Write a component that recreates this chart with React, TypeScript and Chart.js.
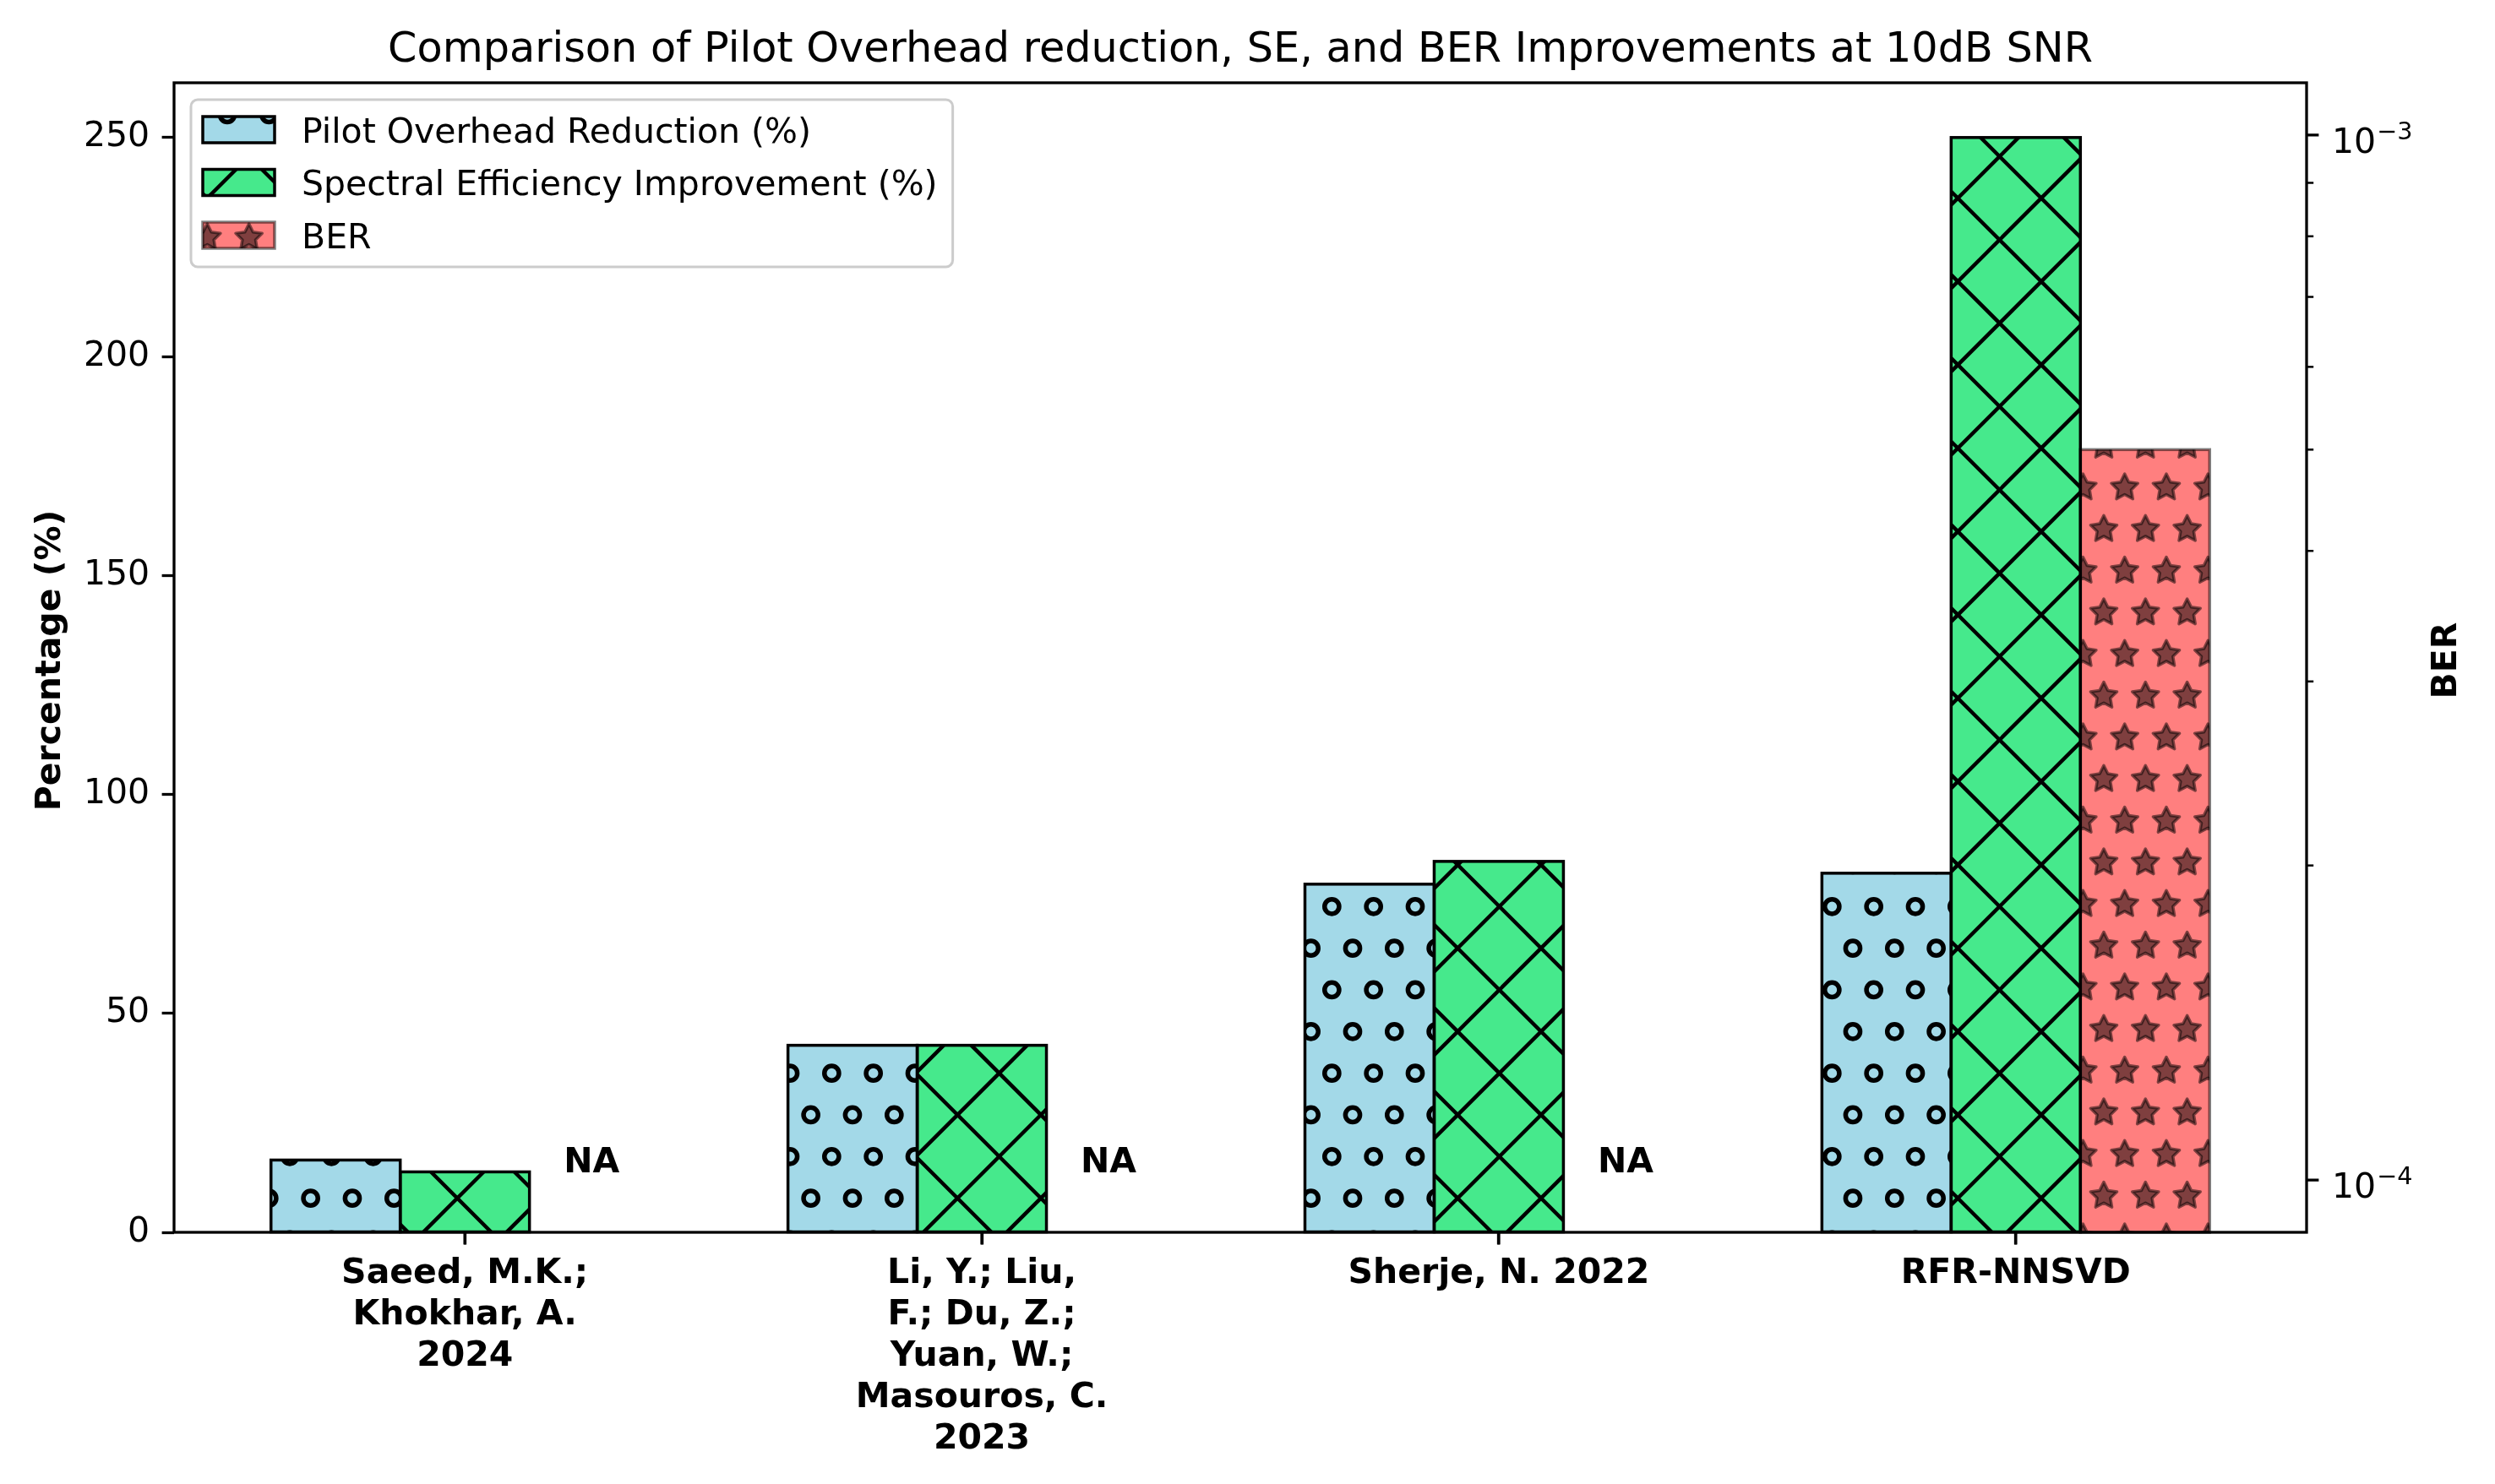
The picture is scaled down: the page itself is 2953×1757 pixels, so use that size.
import React, { useEffect, useRef } from "react";
import { Chart, registerables } from "chart.js";

Chart.register(...registerables);

// ---------------- data ----------------
const categoryLabels: string[][] = [
  ["Saeed, M.K.;", "Khokhar, A.", "2024"],
  ["Li, Y.; Liu,", "F.; Du, Z.;", "Yuan, W.;", "Masouros, C.", "2023"],
  ["Sherje, N. 2022"],
  ["RFR-NNSVD"],
];
const categoryPositions = [0, 1, 2, 3];
const pilotOverheadReduction = [16.5, 42.7, 79.5, 82];
const spectralEfficiencyImprovement = [13.8, 42.7, 84.7, 250];
const berValues: (number | null)[] = [null, null, null, 5e-4];
const naLabels: (string | null)[] = ["NA", "NA", "NA", null];
const naBaseBer = 1e-4;
const percentTicks = [0, 50, 100, 150, 200, 250];
const berMajorTicks = [1e-4, 1e-3];
const berMajorLabels = [
  ["10", "\u22124"],
  ["10", "\u22123"],
];
const berMinorTicks = [2e-4, 3e-4, 4e-4, 5e-4, 6e-4, 7e-4, 8e-4, 9e-4];
const seriesLabels = [
  "Pilot Overhead Reduction (%)",
  "Spectral Efficiency Improvement (%)",
  "BER",
];
const chartTitle =
  "Comparison of Pilot Overhead reduction, SE, and BER Improvements at 10dB SNR";
const leftAxisTitle = "Percentage (%)";
const rightAxisTitle = "BER";

// ---------------- layout / style ----------------
const W = 2953;
const H = 1757;
const AREA_LEFT = 206;
const AREA_RIGHT = 2730;
const AREA_TOP = 98;
const AREA_BOTTOM = 1459;
const xMin = -0.5625;
const xMax = 3.5625;
const yMin = 0;
const yMax = 262.5;
const berMin = Math.pow(10, -4.05);
const berMax = Math.pow(10, -2.95);

const FONT = "DejaVu Sans";
const FS = 41;
const TITLE_FS = 49.3;
const BLUE = "#a3d9e8";
const GREEN = "#46e98c";
const RED = "#ff7f7f";
const edgeColors = ["#000000", "#000000", "rgba(0,0,0,0.5)"];

const TILE = 296;
const CELL = TILE / 6;

function makeTile(bg: string, draw: (c: CanvasRenderingContext2D) => void) {
  const cv = document.createElement("canvas");
  cv.width = TILE;
  cv.height = TILE;
  const c = cv.getContext("2d")!;
  c.fillStyle = bg;
  c.fillRect(0, 0, TILE, TILE);
  draw(c);
  return cv;
}

function wrapped(x: number, y: number, fn: (x: number, y: number) => void) {
  for (const dx of [-TILE, 0, TILE]) for (const dy of [-TILE, 0, TILE]) fn(x + dx, y + dy);
}

function circleTile() {
  return makeTile(BLUE, (c) => {
    c.strokeStyle = "#000";
    c.lineWidth = 5.5;
    for (let r = 0; r < 6; r++) {
      const y = 37.3 + r * CELL;
      const x0 = r % 2 === 0 ? 22.3 : 47.0;
      for (let k = 0; k < 6; k++) {
        wrapped(x0 + k * CELL, y, (x, yy) => {
          c.beginPath();
          c.arc(x, yy, 8.6, 0, Math.PI * 2);
          c.stroke();
        });
      }
    }
  });
}

function crossTile() {
  return makeTile(GREEN, (c) => {
    c.strokeStyle = "#000";
    c.lineWidth = 4.5;
    const p = 2 * CELL;
    for (let k = -8; k <= 8; k++) {
      const cc = 85.2 + k * p;
      c.beginPath();
      c.moveTo(cc + 20, -20);
      c.lineTo(cc - TILE - 20, TILE + 20);
      c.stroke();
      const d = 88.0 + k * p;
      c.beginPath();
      c.moveTo(-20, d - 20);
      c.lineTo(TILE + 20, d + TILE + 20);
      c.stroke();
    }
  });
}

function starTile() {
  return makeTile(RED, (c) => {
    c.fillStyle = "rgba(0,0,0,0.5)";
    c.strokeStyle = "rgba(0,0,0,0.5)";
    c.lineWidth = 3.5;
    c.lineJoin = "round";
    const R = 16.4;
    const r = 8.2;
    for (let row = 0; row < 6; row++) {
      const y = 34.7 + row * CELL;
      const x0 = row % 2 === 0 ? 23.3 : 48.0;
      for (let k = 0; k < 6; k++) {
        wrapped(x0 + k * CELL, y, (cx, cy) => {
          c.beginPath();
          for (let i = 0; i < 10; i++) {
            const a = -Math.PI / 2 + (i * Math.PI) / 5;
            const rad = i % 2 === 0 ? R : r;
            const px = cx + rad * Math.cos(a);
            const py = cy + rad * Math.sin(a);
            if (i === 0) c.moveTo(px, py);
            else c.lineTo(px, py);
          }
          c.closePath();
          c.fill();
          c.stroke();
        });
      }
    }
  });
}

const decorPlugin = {
  id: "decor",
  afterDraw(chart: any) {
    const ctx: CanvasRenderingContext2D = chart.ctx;
    const ca = chart.chartArea;
    const patterns: any[] = chart.data.datasets.map((d: any) => d.backgroundColor);
    ctx.save();

    // bar edges
    chart.data.datasets.forEach((ds: any, di: number) => {
      const meta = chart.getDatasetMeta(di);
      meta.data.forEach((el: any, i: number) => {
        const pt = ds.data[i];
        if (!pt || pt.y == null) return;
        const { x, y, base, width } = el.getProps(["x", "y", "base", "width"], true);
        const top = Math.min(y, base);
        const h = Math.abs(base - y);
        ctx.lineWidth = 3.5;
        ctx.strokeStyle = edgeColors[di];
        ctx.strokeRect(x - width / 2, top, width, h);
      });
    });

    // NA labels on the BER slot
    const y2 = chart.scales.y2;
    const xs = chart.scales.x;
    const berMeta = chart.getDatasetMeta(2);
    ctx.fillStyle = "#000";
    ctx.font = `bold ${FS}px "${FONT}"`;
    ctx.textAlign = "center";
    ctx.textBaseline = "alphabetic";
    naLabels.forEach((t, i) => {
      if (!t) return;
      const el = berMeta.data[i];
      let px = el ? el.x : NaN;
      if (!isFinite(px)) px = xs.getPixelForValue(categoryPositions[i] + 0.25);
      ctx.fillText(t, px - 3, y2.getPixelForValue(naBaseBer) - 9);
    });

    // spines
    ctx.strokeStyle = "#000";
    ctx.lineWidth = 3.3;
    ctx.strokeRect(ca.left, ca.top, ca.right - ca.left, ca.bottom - ca.top);

    // x tick marks at category centres
    categoryPositions.forEach((v) => {
      const px = xs.getPixelForValue(v);
      ctx.beginPath();
      ctx.moveTo(px, ca.bottom);
      ctx.lineTo(px, ca.bottom + 14.4);
      ctx.stroke();
    });

    // right log axis ticks
    ctx.lineWidth = 3.3;
    berMajorTicks.forEach((v) => {
      const py = y2.getPixelForValue(v);
      ctx.beginPath();
      ctx.moveTo(ca.right, py);
      ctx.lineTo(ca.right + 14.4, py);
      ctx.stroke();
    });
    ctx.lineWidth = 2.5;
    berMinorTicks.forEach((v) => {
      const py = y2.getPixelForValue(v);
      ctx.beginPath();
      ctx.moveTo(ca.right, py);
      ctx.lineTo(ca.right + 8.2, py);
      ctx.stroke();
    });
    ctx.textAlign = "left";
    berMajorTicks.forEach((v, i) => {
      const py = y2.getPixelForValue(v);
      const [b, e] = berMajorLabels[i];
      ctx.font = `${FS}px "${FONT}"`;
      const bx = ca.right + 30;
      ctx.fillText(b, bx, py + 21);
      const bw = ctx.measureText(b).width;
      ctx.font = `${FS * 0.7}px "${FONT}"`;
      ctx.fillText(e, bx + bw + 1, py + 21 - 16);
    });

    // axis titles
    ctx.font = `bold ${FS}px "${FONT}"`;
    ctx.textAlign = "center";
    ctx.save();
    ctx.translate(71, 782);
    ctx.rotate(-Math.PI / 2);
    ctx.fillText(leftAxisTitle, 0, 0);
    ctx.restore();
    ctx.save();
    ctx.translate(2907, 782);
    ctx.rotate(-Math.PI / 2);
    ctx.fillText(rightAxisTitle, 0, 0);
    ctx.restore();

    // title
    ctx.font = `${TITLE_FS}px "${FONT}"`;
    ctx.fillText(chartTitle, (ca.left + ca.right) / 2, ca.top - 25);

    // legend
    ctx.font = `${FS}px "${FONT}"`;
    const maxW = Math.max(...seriesLabels.map((t) => ctx.measureText(t).width));
    const lx = ca.left + 20;
    const ly = ca.top + 20;
    const swX = lx + 14;
    const txtX = swX + 85 + 32;
    const lw = txtX + maxW + 18 - lx;
    const lh = 198;
    ctx.beginPath();
    if ((ctx as any).roundRect) (ctx as any).roundRect(lx, ly, lw, lh, 8);
    else ctx.rect(lx, ly, lw, lh);
    ctx.fillStyle = "rgba(255,255,255,0.8)";
    ctx.fill();
    ctx.strokeStyle = "#cccccc";
    ctx.lineWidth = 3;
    ctx.stroke();
    seriesLabels.forEach((t, i) => {
      const cy = ly + 35.5 + i * 62.5;
      ctx.fillStyle = patterns[i];
      ctx.fillRect(swX, cy - 15.5, 85, 31);
      ctx.strokeStyle = edgeColors[i];
      ctx.lineWidth = 3.5;
      ctx.strokeRect(swX, cy - 15.5, 85, 31);
      ctx.fillStyle = "#000";
      ctx.textAlign = "left";
      ctx.fillText(t, txtX, cy + 15);
    });

    ctx.restore();
  },
};

export default function App() {
  const ref = useRef<HTMLCanvasElement | null>(null);

  useEffect(() => {
    const canvas = ref.current;
    if (!canvas) return;
    const ctx = canvas.getContext("2d")!;
    const bluePattern = ctx.createPattern(circleTile(), "repeat");
    const greenPattern = ctx.createPattern(crossTile(), "repeat");
    const redPattern = ctx.createPattern(starTile(), "repeat");

    const tickGrid = {
      display: true,
      offset: false,
      drawOnChartArea: false,
      drawTicks: true,
      tickLength: 14.4,
      tickWidth: 3.3,
      tickColor: "#000",
      color: "#000",
    };

    const chart = new Chart(canvas, {
      type: "bar",
      data: {
        datasets: [
          {
            label: seriesLabels[0],
            data: categoryPositions.map((x, i) => ({ x, y: pilotOverheadReduction[i] })),
            backgroundColor: bluePattern as any,
            borderWidth: 0,
            yAxisID: "y",
          },
          {
            label: seriesLabels[1],
            data: categoryPositions.map((x, i) => ({ x, y: spectralEfficiencyImprovement[i] })),
            backgroundColor: greenPattern as any,
            borderWidth: 0,
            yAxisID: "y",
          },
          {
            label: seriesLabels[2],
            data: categoryPositions.map((x, i) => ({ x, y: berValues[i] })),
            backgroundColor: redPattern as any,
            borderWidth: 0,
            yAxisID: "y2",
          },
        ],
      } as any,
      options: {
        responsive: false,
        animation: false,
        devicePixelRatio: 1,
        events: [],
        layout: { padding: { top: AREA_TOP, left: 0, right: 0, bottom: 0 } },
        datasets: { bar: { categoryPercentage: 0.75, barPercentage: 1 } },
        plugins: {
          legend: { display: false },
          title: { display: false },
          tooltip: { enabled: false },
        },
        scales: {
          x: {
            type: "linear",
            min: xMin,
            max: xMax,
            offset: false,
            afterBuildTicks: (s: any) => {
              s.ticks = categoryPositions.map((v) => ({ value: v }));
            },
            afterFit: (s: any) => {
              s.height = H - AREA_BOTTOM;
            },
            grid: tickGrid,
            border: { display: false },
            ticks: {
              autoSkip: false,
              maxRotation: 0,
              minRotation: 0,
              padding: 10,
              color: "#000",
              font: { family: FONT, size: FS, weight: "bold", lineHeight: 1.2 },
              callback: (v: any) => {
                const idx = categoryPositions.indexOf(Number(v));
                return idx >= 0 ? categoryLabels[idx] : "";
              },
            },
          },
          y: {
            type: "linear",
            position: "left",
            min: yMin,
            max: yMax,
            afterBuildTicks: (s: any) => {
              s.ticks = percentTicks.map((v) => ({ value: v }));
            },
            afterFit: (s: any) => {
              s.width = AREA_LEFT;
            },
            grid: tickGrid,
            border: { display: false },
            ticks: {
              padding: 14.4,
              color: "#000",
              font: { family: FONT, size: FS },
              callback: (v: any) => String(v),
            },
          },
          y2: {
            type: "logarithmic",
            position: "right",
            min: berMin,
            max: berMax,
            afterFit: (s: any) => {
              s.width = W - AREA_RIGHT;
            },
            grid: { display: false },
            border: { display: false },
            ticks: { display: false },
          },
        },
      } as any,
      plugins: [decorPlugin],
    });

    return () => chart.destroy();
  }, []);

  return (
    <div
      style={{
        position: "absolute",
        left: 0,
        top: 0,
        width: W,
        height: H,
        overflow: "hidden",
        background: "#fff",
      }}
    >
      <canvas ref={ref} width={W} height={H} style={{ display: "block", width: W, height: H }} />
    </div>
  );
}
